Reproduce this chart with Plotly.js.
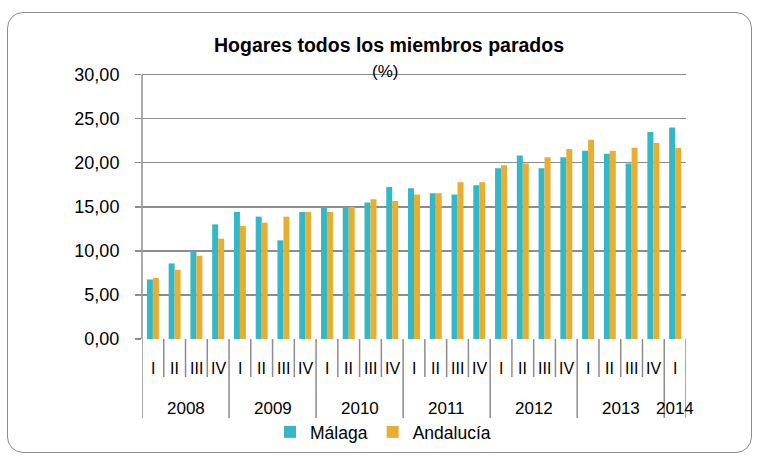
<!DOCTYPE html>
<html>
<head>
<meta charset="utf-8">
<script src="https://cdn.plot.ly/plotly-3.0.1.min.js"></script>
<style>
html,body{margin:0;padding:0;background:#fff;}
#wrap{position:relative;width:760px;height:456px;}
#chart{width:760px;height:456px;}
#frame{position:absolute;left:7px;top:12px;width:743px;height:439px;border:1.5px solid #8c8c8c;border-radius:16px;pointer-events:none;}
</style>
</head>
<body>
<div id="wrap"><div id="chart"></div><div id="frame"></div></div>
<script>
const years = ["2008","2009","2010","2011","2012","2013","2014"];
const quartersPerYear = [4,4,4,4,4,4,1];
const quarterLabels = ["I","II","III","IV"];
const malaga = [6.75,8.57,9.97,13.0, 14.41,13.88,11.19,14.41, 14.98,14.98,15.47,17.25, 17.1,16.53,16.38,17.44, 19.38,20.82,19.38,20.63, 21.35,21.0,19.91,23.47, 24.0];
const andalucia = [6.94,7.85,9.44,11.38, 12.82,13.2,13.88,14.41, 14.41,14.98,15.85,15.66, 16.38,16.53,17.79,17.79, 19.72,19.91,20.63,21.54, 22.6,21.35,21.69,22.22, 21.69];

const FONT = '"Liberation Sans", Arial, sans-serif';
const teal = '#34B7C6', gold = '#E8AE30', grid = '#8c8c8c';

const idx = malaga.map((_, i) => i);
const plotTop = 71, plotBottom = 339;
const plotH = plotBottom - plotTop;

const annotations = [];
const shapes = [];
let k = 0;
years.forEach((yr, g) => {
  const n = quartersPerYear[g];
  const start = k;
  for (let q = 0; q < n; q++) {
    annotations.push({x: k, xref: 'x', y: 0, yref: 'paper', yanchor: 'middle', yshift: -29, text: quarterLabels[q],
      showarrow: false, font: {family: FONT, size: 16, color: '#000'}});
    if (q > 0) shapes.push({type: 'line', xref: 'x', yref: 'paper', x0: k - 0.5, x1: k - 0.5, y0: 0, y1: -(377 - plotBottom) / plotH, line: {color: grid, width: 1.5}});
    k++;
  }
  shapes.push({type: 'line', xref: 'x', yref: 'paper', x0: start - 0.5, x1: start - 0.5, y0: 0, y1: -(418 - plotBottom) / plotH, line: {color: grid, width: 1.5}});
  annotations.push({x: start + (n - 1) / 2, xref: 'x', y: 0, yref: 'paper', yanchor: 'middle', yshift: -69, text: yr,
    showarrow: false, font: {family: FONT, size: 17, color: '#000'}});
});
shapes.push({type: 'line', xref: 'x', yref: 'paper', x0: k - 0.5, x1: k - 0.5, y0: 0, y1: -(418 - plotBottom) / plotH, line: {color: grid, width: 1.5}});

annotations.push({x: (385 - 142) / 544, xref: 'paper', y: (plotBottom - 71) / plotH, yref: 'paper', yanchor: 'middle', xanchor: 'center', text: '(%)',
  showarrow: false, font: {family: FONT, size: 17, color: '#000'}});

const data = [
  {type: 'bar', name: 'Málaga', x: idx, y: malaga, marker: {color: teal}},
  {type: 'bar', name: 'Andalucía', x: idx, y: andalucia, marker: {color: gold}}
];

const layout = {
  width: 760, height: 456,
  margin: {l: 142, r: 74, t: plotTop, b: 456 - plotBottom, pad: 0},
  paper_bgcolor: '#fff', plot_bgcolor: '#fff',
  separators: ',.',
  barmode: 'group', bargap: 0.45, bargroupgap: 0,
  font: {family: FONT, size: 16, color: '#000'},
  title: {text: '<b>Hogares todos los miembros parados</b>', x: 389 / 760, xref: 'container', xanchor: 'center',
    y: 1 - 45 / 456, yref: 'container', yanchor: 'middle', font: {family: FONT, size: 19.5, color: '#000'}},
  xaxis: {range: [-0.5, k - 0.5], showticklabels: false, showgrid: false, zeroline: false,
    showline: false, ticks: '', fixedrange: true},
  yaxis: {range: [0, 30.4], tickvals: [0, 5, 10, 15, 20, 25, 30], tickformat: '.2f', showgrid: true, gridcolor: grid, gridwidth: 1.5,
    zeroline: false, showline: false, ticks: 'outside', ticklen: 6,
    tickcolor: grid, tickwidth: 1.5, tickfont: {family: FONT, size: 18, color: '#000'}, ticklabelstandoff: 12},
  showlegend: true,
  legend: {orientation: 'h', xref: 'container', yref: 'container', x: 270 / 760, xanchor: 'left',
    y: 1 - 432 / 456, yanchor: 'middle', font: {family: FONT, size: 17.5, color: '#000'},
    itemwidth: 30, tracegroupgap: 0, bgcolor: 'rgba(0,0,0,0)'},
  shapes: shapes.concat([{type: 'line', xref: 'paper', yref: 'y', x0: 0, x1: 0, y0: 0, y1: 30, line: {color: grid, width: 1.5}}]),
  annotations: annotations
};

Plotly.newPlot('chart', data, layout, {displayModeBar: false, staticPlot: true});
</script>
</body>
</html>
